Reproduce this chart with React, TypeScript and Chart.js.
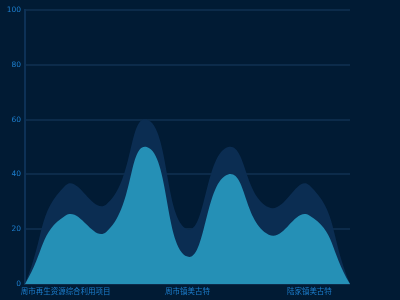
import React, { useEffect, useRef } from "react";
import { Chart, registerables } from "chart.js";

Chart.register(...registerables);

const categories = [
  "",
  "周市再生资源综合利用项目",
  "",
  "",
  "周市镇美古特",
  "",
  "",
  "陆家镇美古特",
  "",
];
const lightValues = [0, 25, 19, 50, 10, 40, 18, 25, 0];
const darkValues = [0, 36, 29, 60, 20, 50, 28, 36, 0];
const yTicks = [0, 20, 40, 60, 80, 100];

export default function App() {
  const ref = useRef<HTMLCanvasElement | null>(null);
  useEffect(() => {
    document.body.style.margin = "0";
    document.body.style.background = "#011b34";
    const chart = new Chart(ref.current!, {
      type: "line",
      data: {
        labels: categories,
        datasets: [
          {
            data: lightValues,
            fill: "origin",
            backgroundColor: "#2590b6",
            borderWidth: 0,
            pointRadius: 0,
            tension: 0.5,
            order: 0,
          },
          {
            data: darkValues,
            fill: "origin",
            backgroundColor: "#0b2d52",
            borderWidth: 0,
            pointRadius: 0,
            tension: 0.5,
            order: 1,
          },
        ],
      },
      options: {
        animation: false,
        responsive: true,
        maintainAspectRatio: false,
        layout: { padding: { top: 10, right: 50, left: 0, bottom: 0 } },
        plugins: { legend: { display: false }, tooltip: { enabled: false } },
        scales: {
          x: {
            grid: { display: false, drawTicks: false },
            border: { display: false },
            ticks: {
              autoSkip: false,
              maxRotation: 0,
              color: "#1d7fcf",
              font: { size: 7.5, family: "Noto Sans CJK SC" },
              padding: 3,
              callback: (_v: any, i: number) => categories[i],
            },
            afterFit: (s: any) => {
              s.height = 16;
            },
          },
          y: {
            min: 0,
            max: 100,
            afterBuildTicks: (s: any) => {
              s.ticks = yTicks.map((v) => ({ value: v }));
            },
            grid: { color: "#0c2b4a", lineWidth: 2, drawTicks: false },
            border: { display: true, color: "#0d3156", width: 2 },
            ticks: {
              color: "#1d7fcf",
              font: { size: 7.5, family: "DejaVu Sans" },
              padding: 4,
            },
            afterFit: (s: any) => {
              s.width = 25;
            },
          },
        },
      },
    });
    return () => chart.destroy();
  }, []);
  return (
    <div style={{ position: "fixed", inset: 0, width: 400, height: 300, background: "#011b34" }}>
      <canvas ref={ref} />
    </div>
  );
}
